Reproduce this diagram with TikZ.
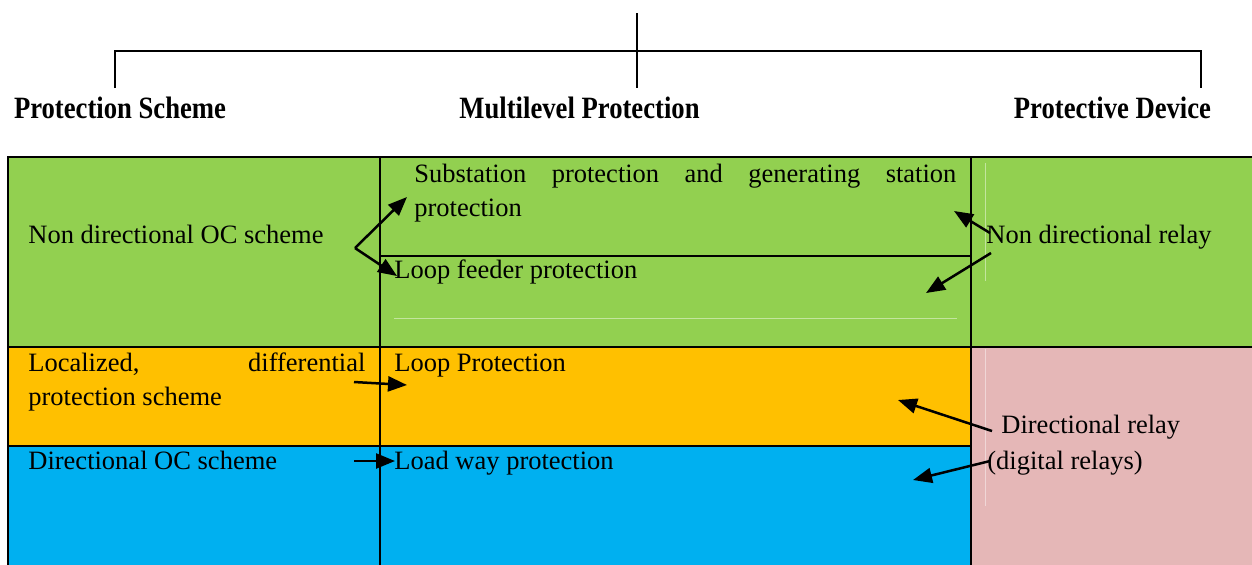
\documentclass[tikz,border=0pt]{standalone}
\usepackage{fontspec}
\setmainfont{Liberation Serif}
\usetikzlibrary{arrows.meta}
\definecolor{cgreen}{HTML}{92D050}
\definecolor{corange}{HTML}{FFC000}
\definecolor{cblue}{HTML}{00B0F0}
\definecolor{cpink}{HTML}{E5B7B7}
\begin{document}
\begin{tikzpicture}[x=0.5pt,y=-0.5pt,
  gridline/.style={draw=black,line width=1pt},
  faint/.style={draw=white,opacity=0.45,line width=0.5pt},
  body/.style={anchor=base west,inner sep=0pt,font=\fontsize{13.25}{17}\selectfont},
  head/.style={anchor=base,inner sep=0pt,font=\bfseries\fontsize{15.5}{18}\selectfont},
  arr/.style={-{Triangle[length=9.5pt,width=7.5pt]},line width=1.25pt},
  bracket/.style={line width=1pt}]
\useasboundingbox (0,0) rectangle (1252,564);
\clip (0,0) rectangle (1252,564);
% top bracket
\coordinate (top) at (637,13);
\coordinate (mid) at (637,88);
\coordinate (bl) at (115,51);
\coordinate (br) at (1201,51);
\coordinate (bld) at (115,88);
\coordinate (brd) at (1201,88);
\draw[line width=0.8pt] (top) -- (mid);
\draw[bracket] (bld) -- (bl) -- (br) -- (brd);
% headings
\node[head] (h1) at (120,118) {\scalebox{0.86}[1]{Protection Scheme}};
\node[head] (h2) at (579.5,118) {\scalebox{0.86}[1]{Multilevel Protection}};
\node[head] (h3) at (1112.5,118) {\scalebox{0.86}[1]{Protective Device}};
% cell fills
\fill[cgreen] (8,157) rectangle (1260,347);
\fill[corange] (8,347) rectangle (971,446);
\fill[cblue] (8,446) rectangle (971,570);
\fill[cpink] (971,347) rectangle (1260,570);
% faint artefact lines
\draw[faint] (985,163) -- (985,281);
\draw[faint] (394,318) -- (957,318);
\draw[faint] (985,349) -- (985,506);
% grid
\draw[gridline] (8,157) rectangle (1260,570);
\draw[gridline] (8,347) -- (1260,347);
\draw[gridline] (8,446) -- (971,446);
\draw[gridline] (380,256) -- (971,256);
\draw[gridline] (380,157) -- (380,570);
\draw[gridline] (971,157) -- (971,570);
% texts
\node[body] (t1) at (28,243) {Non directional OC scheme};
\node[body] (t2a) at (414,182) {\makebox[271pt][s]{Substation protection and generating station}};
\node[body] (t2b) at (414,216) {protection};
\node[body] (t3) at (394,278) {Loop feeder protection};
\node[body] (t4) at (986,243) {Non directional relay};
\node[body] (t5a) at (28,371) {\makebox[168.5pt][s]{Localized, differential}};
\node[body] (t5b) at (28,405) {protection scheme};
\node[body] (t6) at (394,371) {Loop Protection};
\node[body] (t7) at (28,469) {Directional OC scheme};
\node[body] (t8) at (394,469) {Load way protection};
\node[body] (t9a) at (1001,433) {Directional relay};
\node[body] (t9b) at (987,469) {(digital relays)};
% arrow coordinates
\coordinate (s1) at (355,248);
\coordinate (e1) at (407,197);
\coordinate (e2) at (397,276);
\coordinate (s3) at (990,233);
\coordinate (e3) at (954,211);
\coordinate (s4) at (991,253);
\coordinate (e4) at (926,293);
\coordinate (s5) at (354,382);
\coordinate (e5) at (407,385);
\coordinate (s6) at (354,461);
\coordinate (e6) at (395,461);
\coordinate (s7) at (992,431);
\coordinate (e7) at (898,400);
\coordinate (s8) at (990,461);
\coordinate (e8) at (913,480);
\draw[arr] (s1) -- (e1);
\draw[arr] (s1) -- (e2);
\draw[arr] (s3) -- (e3);
\draw[arr] (s4) -- (e4);
\draw[arr] (s5) -- (e5);
\draw[arr] (s6) -- (e6);
\draw[arr] (s7) -- (e7);
\draw[arr] (s8) -- (e8);
\end{tikzpicture}
\end{document}
